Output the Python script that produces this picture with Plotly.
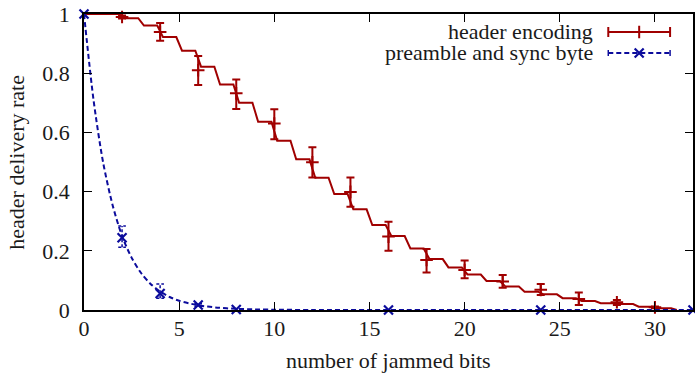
import plotly.graph_objects as go

# ---------------- data ----------------
# header encoding: delivery-rate level after each integer number of jammed bits
he_level_x = list(range(32))
he_levels = [1.0, 1.0, 0.986, 0.961, 0.922, 0.876, 0.822, 0.762, 0.700, 0.636,
             0.572, 0.509, 0.447, 0.392, 0.340, 0.287, 0.250, 0.208, 0.172, 0.144,
             0.120, 0.098, 0.079, 0.062, 0.053, 0.040, 0.030, 0.023, 0.020, 0.011,
             0.006, 0.0]

# header encoding: measured points with error bars
he_x = [2, 4, 6, 8, 10, 12, 14, 16, 18, 20, 22, 24, 26, 28, 30]
he_y = [0.990, 0.939, 0.810, 0.732, 0.630, 0.499, 0.399, 0.248, 0.169, 0.135,
        0.096, 0.068, 0.037, 0.026, 0.009]
he_hi = [0.995, 0.970, 0.858, 0.779, 0.678, 0.550, 0.448, 0.298, 0.206, 0.167,
         0.118, 0.088, 0.059, 0.034, 0.012]
he_lo = [0.985, 0.910, 0.760, 0.679, 0.577, 0.448, 0.349, 0.200, 0.127, 0.107,
         0.075, 0.051, 0.017, 0.017, 0.006]

# preamble and sync byte: smooth curve
ps_curve_x = [0, 0.5, 1, 1.5, 2, 2.5, 3, 3.5, 4, 4.5, 5, 6, 7, 8, 9, 10, 12, 16, 24, 32]
ps_curve_y = [1.0, 0.71, 0.50, 0.355, 0.25, 0.177, 0.125, 0.088, 0.0625, 0.044,
              0.031, 0.016, 0.008, 0.004, 0.002, 0.001, 0.0, 0.0, 0.0, 0.0]
# preamble and sync byte: measured points with error bars
ps_x = [0, 2, 4, 6, 8, 16, 24, 32]
ps_y = [1.0, 0.244, 0.056, 0.017, 0.002, 0.0, 0.0, 0.0]
ps_hi = [1.0, 0.284, 0.088, 0.021, 0.003, 0.0, 0.0, 0.0]
ps_lo = [1.0, 0.212, 0.040, 0.013, 0.001, 0.0, 0.0, 0.0]

x_ticks = [0, 5, 10, 15, 20, 25, 30]
y_ticks = [0, 0.2, 0.4, 0.6, 0.8, 1]
y_ticktext = ["0", "0.2", "0.4", "0.6", "0.8", "1"]

series_names = ["header encoding", "preamble and sync byte"]
x_title = "number of jammed bits"
y_title = "header delivery rate"

# ---------------- styling ----------------
RED = "#a00000"
BLUE = "#0c0c9c"
TXT = "#1a1a1a"
FONT = "Liberation Serif"
FS = 22
W, H = 695, 375
ML, MR, MT, MB = 84, 0, 14, 65

# step line for header encoding built from the levels
tw = 0.15
step_x, step_y = [he_level_x[0]], [he_levels[0]]
for i in range(1, len(he_levels)):
    if he_levels[i] != he_levels[i - 1]:
        n = he_level_x[i]
        step_x += [n - tw, n + tw]
        step_y += [he_levels[i - 1], he_levels[i]]

# dashed error bars for preamble series built from data
cap = 0.2
eb_x, eb_y = [], []
for x, lo, hi in zip(ps_x, ps_lo, ps_hi):
    if hi - lo > 0.004:
        eb_x += [x, x, None, x - cap, x + cap, None, x - cap, x + cap, None]
        eb_y += [lo, hi, None, hi, hi, None, lo, lo, None]

fig = go.Figure()

fig.add_trace(go.Scatter(x=step_x, y=step_y, mode="lines",
                         line=dict(color=RED, width=2), showlegend=False,
                         cliponaxis=False))
fig.add_trace(go.Scatter(
    x=he_x, y=he_y, mode="markers",
    marker=dict(symbol="cross-thin", size=9, line=dict(color=RED, width=2)),
    error_y=dict(type="data", symmetric=False,
                 array=[h - y for h, y in zip(he_hi, he_y)],
                 arrayminus=[y - l for y, l in zip(he_y, he_lo)],
                 color=RED, thickness=2, width=4),
    showlegend=False, cliponaxis=False))

fig.add_trace(go.Scatter(x=ps_curve_x, y=ps_curve_y, mode="lines",
                         line=dict(color=BLUE, width=2, dash="5px,3px", shape="spline", smoothing=0.8),
                         showlegend=False))
fig.add_trace(go.Scatter(x=eb_x, y=eb_y, mode="lines",
                         line=dict(color=BLUE, width=1.5, dash="3px,2px"),
                         showlegend=False, cliponaxis=False))
fig.add_trace(go.Scatter(
    x=ps_x, y=ps_y, mode="markers",
    marker=dict(symbol="x-thin", size=9, line=dict(color=BLUE, width=2.2)),
    showlegend=False, cliponaxis=False))

# ---------------- manual gnuplot-style legend (pixel coordinates on overlay axes) ----------------
leg_rows = [32, 53]
leg_x0, leg_x1, leg_xm, leg_text_right = 610, 672, 641, 597
fig.add_trace(go.Scatter(x=[leg_x0, leg_x1], y=[leg_rows[0]] * 2, mode="lines",
                         line=dict(color=RED, width=2), xaxis="x2", yaxis="y2",
                         showlegend=False, hoverinfo="skip"))
fig.add_trace(go.Scatter(x=[leg_x0, leg_x0, None, leg_x1, leg_x1],
                         y=[leg_rows[0] - 5, leg_rows[0] + 5, None, leg_rows[0] - 5, leg_rows[0] + 5],
                         mode="lines", line=dict(color=RED, width=2), xaxis="x2", yaxis="y2",
                         showlegend=False, hoverinfo="skip"))
fig.add_trace(go.Scatter(x=[leg_xm], y=[leg_rows[0]], mode="markers",
                         marker=dict(symbol="cross-thin", size=9, line=dict(color=RED, width=2)),
                         xaxis="x2", yaxis="y2", showlegend=False, hoverinfo="skip"))
fig.add_trace(go.Scatter(x=[leg_x0, leg_x1], y=[leg_rows[1]] * 2, mode="lines",
                         line=dict(color=BLUE, width=2, dash="5px,3px"), xaxis="x2", yaxis="y2",
                         showlegend=False, hoverinfo="skip"))
fig.add_trace(go.Scatter(x=[leg_x0, leg_x0, None, leg_x1, leg_x1],
                         y=[leg_rows[1] - 3, leg_rows[1] + 3, None, leg_rows[1] - 3, leg_rows[1] + 3],
                         mode="lines", line=dict(color=BLUE, width=1.5), xaxis="x2", yaxis="y2",
                         showlegend=False, hoverinfo="skip"))
fig.add_trace(go.Scatter(x=[leg_xm], y=[leg_rows[1]], mode="markers",
                         marker=dict(symbol="x-thin", size=9, line=dict(color=BLUE, width=2.2)),
                         xaxis="x2", yaxis="y2", showlegend=False, hoverinfo="skip"))

annotations = []
for name, row in zip(series_names, leg_rows):
    annotations.append(dict(x=leg_text_right, y=row - 1, xref="x2", yref="y2", text=name,
                            showarrow=False, xanchor="right", yanchor="middle",
                            font=dict(family=FONT, size=FS, color=TXT)))
pw, ph = W - ML - MR, H - MT - MB
annotations.append(dict(x=0.5, y=(-(360 - (MT + ph))) / ph, xref="paper", yref="paper",
                        text=x_title, showarrow=False, xanchor="center", yanchor="middle",
                        font=dict(family=FONT, size=FS, color=TXT)))
annotations.append(dict(x=(15.5 - ML) / pw, y=0.5, xref="paper", yref="paper",
                        text=y_title, showarrow=False, textangle=-90,
                        xanchor="center", yanchor="middle",
                        font=dict(family=FONT, size=FS, color=TXT)))

axis_common = dict(showgrid=False, zeroline=False, showline=True, linecolor="black",
                   linewidth=1.5, ticks="inside", ticklen=8, tickwidth=1,
                   tickcolor="black", mirror="ticks",
                   tickfont=dict(family=FONT, size=FS, color=TXT))

fig.update_layout(
    width=W, height=H,
    margin=dict(l=ML, r=MR, t=MT, b=MB, pad=0),
    paper_bgcolor="white", plot_bgcolor="white",
    font=dict(family=FONT, size=FS, color=TXT),
    xaxis=dict(range=[0, 32], tickvals=x_ticks, ticklabelstandoff=-2, **axis_common),
    yaxis=dict(range=[0, 1], tickvals=y_ticks, ticktext=y_ticktext,
               ticklabelstandoff=8, **axis_common),
    xaxis2=dict(range=[ML, W - MR], overlaying="x", visible=False, fixedrange=True),
    yaxis2=dict(range=[MT + ph, MT], overlaying="y", visible=False, fixedrange=True),
    annotations=annotations,
    showlegend=False,
)

fig.write_html("out.html")
